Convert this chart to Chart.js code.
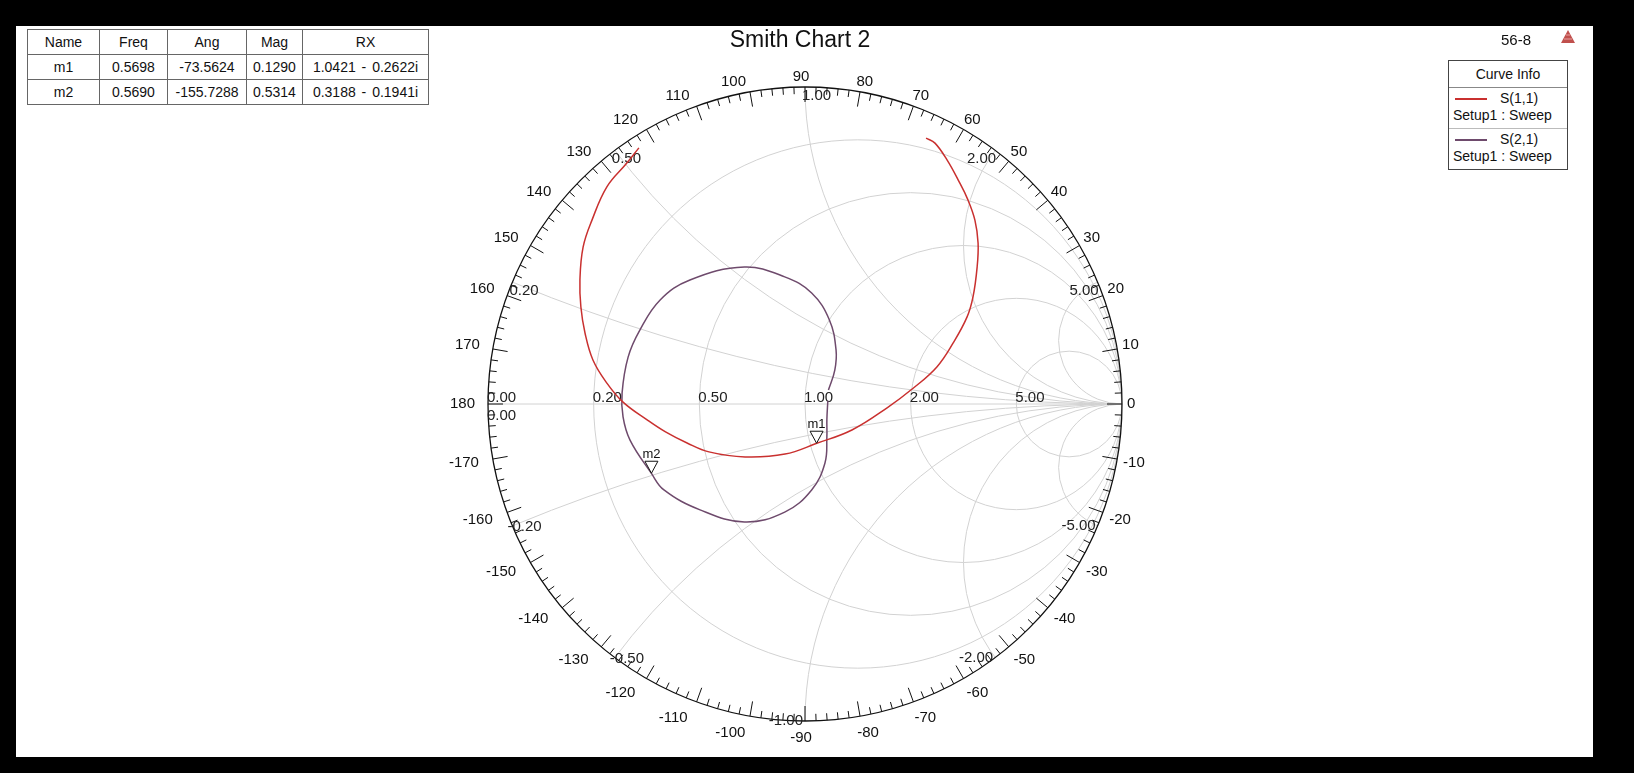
<!DOCTYPE html>
<html>
<head>
<meta charset="utf-8">
<script src="https://cdn.jsdelivr.net/npm/chart.js@4.4.1/dist/chart.umd.min.js"></script>
<style>
html,body{margin:0;padding:0;background:#000;width:1634px;height:773px;overflow:hidden;font-family:"Liberation Sans",Arial,sans-serif;}
#paper{position:absolute;left:16px;top:26px;width:1577px;height:731px;background:#fff;}
#chart{position:absolute;left:0;top:0;}
#title{position:absolute;left:650px;top:28px;width:300px;text-align:center;font-size:23px;line-height:23px;color:#111;}
#markers{position:absolute;left:27px;top:29px;border-collapse:collapse;table-layout:fixed;font-size:14px;color:#111;background:#fff;word-spacing:2px;}
#markers td{border:1px solid #666;height:24px;padding:0;text-align:center;white-space:nowrap;}
#tag{position:absolute;left:1501px;top:31px;font-size:15px;color:#111;}
#icon{position:absolute;left:1560px;top:29px;}
#legend{position:absolute;left:1448px;top:60px;width:118px;border:1px solid #444;background:#fff;font-size:14px;color:#111;}
#legend .hdr{height:26px;line-height:26px;text-align:center;border-bottom:1px solid #888;}
#legend .row{height:40px;position:relative;}
#legend .row + .row{border-top:1px solid #bbb;}
#legend .ln{position:absolute;left:6px;top:10px;width:32px;height:0;border-top:2px solid;}
#legend .nm{position:absolute;left:51px;top:2px;}
#legend .sub{position:absolute;left:4px;top:19px;white-space:nowrap;}
</style>
</head>
<body>
<div id="paper"></div>
<canvas id="chart" width="1634" height="773"></canvas>
<div id="title">Smith Chart 2</div>
<table id="markers">
<colgroup><col style="width:72px"><col style="width:68px"><col style="width:79px"><col style="width:56px"><col style="width:126px"></colgroup>
<tbody id="mbody"></tbody>
</table>
<div id="tag">56-8</div>
<svg id="icon" width="16" height="15"><polygon points="8,1 15,14 1,14" fill="#c0504d"/><line x1="4" y1="10" x2="12" y2="10" stroke="#e8a0a0"/><line x1="6" y1="6" x2="10" y2="6" stroke="#e8a0a0"/></svg>
<div id="legend"></div>
<script>
// S(1,1) trace, reflection coefficient (real / imag)
const s11Re = [0.382, 0.410, 0.448, 0.483, 0.514, 0.536, 0.546, 0.543, 0.530, 0.511, 0.467, 0.416, 0.344, 0.259, 0.148, 0.037, -0.063, -0.189, -0.303, -0.372, -0.440, -0.498, -0.574, -0.625, -0.669, -0.694, -0.707, -0.710, -0.700, -0.672, -0.625, -0.562, -0.524];
const s11Im = [0.839, 0.823, 0.770, 0.707, 0.644, 0.580, 0.508, 0.432, 0.338, 0.274, 0.192, 0.117, 0.052, -0.012, -0.082, -0.124, -0.158, -0.167, -0.151, -0.123, -0.088, -0.050, 0.006, 0.066, 0.139, 0.224, 0.306, 0.391, 0.495, 0.580, 0.685, 0.760, 0.808];
// S(2,1) trace
const s21Re = [0.072, 0.069, 0.069, 0.063, 0.021, -0.064, -0.191, -0.331, -0.445, -0.485, -0.552, -0.574, -0.577, -0.558, -0.521, -0.457, -0.363, -0.191, -0.064, 0.021, 0.077, 0.098, 0.094, 0.074];
const s21Im = [0.010, -0.050, -0.104, -0.186, -0.271, -0.341, -0.372, -0.334, -0.271, -0.218, -0.114, -0.041, 0.035, 0.148, 0.233, 0.328, 0.391, 0.432, 0.401, 0.350, 0.265, 0.170, 0.107, 0.044];

const traceNames = ["S(1,1)", "S(2,1)"];
const traceColors = ["#c9302f", "#6e4a6c"];
const sweepName = "Setup1 : Sweep";

// marker table
const markerNames = ["m1", "m2"];
const markerFreq = ["0.5698", "0.5690"];
const markerAng = [-73.5624, -155.7288];
const markerMag = [0.1290, 0.5314];
const markerRX = ["1.0421 - 0.2622i", "0.3188 - 0.1941i"];

// grid values and tick labels
const resistanceValues = [0.2, 0.5, 1, 2, 5];
const resistanceLabels = ["0.00", "0.20", "0.50", "1.00", "2.00", "5.00"];
const reactanceValues = [0.2, 0.5, 1, 2, 5];
const reactanceLabels = ["0.20", "0.50", "1.00", "2.00", "5.00"];
const angleLabels = [0, 10, 20, 30, 40, 50, 60, 70, 80, 90, 100, 110, 120, 130, 140, 150, 160, 170, 180,
  -170, -160, -150, -140, -130, -120, -110, -100, -90, -80, -70, -60, -50, -40, -30, -20, -10];

// table + legend
let rows = '<tr><td>Name</td><td>Freq</td><td>Ang</td><td>Mag</td><td>RX</td></tr>';
markerNames.forEach((n,i)=>{
rows += '<tr><td>'+n+'</td><td>'+markerFreq[i]+'</td><td>'+markerAng[i].toFixed(4)+'</td><td>'+markerMag[i].toFixed(4)+'</td><td>'+markerRX[i]+'</td></tr>';
});
document.getElementById("mbody").innerHTML = rows;

let lg = '<div class="hdr">Curve Info</div>';
traceNames.forEach((n,i)=>{
lg += '<div class="row"><span class="ln" style="border-color:'+traceColors[i]+'"></span><span class="nm">'+n+'</span><div class="sub">'+sweepName+'</div></div>';
});
document.getElementById("legend").innerHTML = lg;

const FONT = '"Liberation Sans", Arial, sans-serif';

const smithGrid = {
id: "smithGrid",
beforeDatasetsDraw(chart){
const ctx = chart.ctx;
const xs = chart.scales.x, ys = chart.scales.y;
const px = v => xs.getPixelForValue(v);
const py = v => ys.getPixelForValue(v);
const cx = px(0), cy = py(0), R = px(1) - px(0);

ctx.save();
ctx.beginPath();
ctx.arc(cx, cy, R, 0, Math.PI*2);
ctx.clip();
ctx.strokeStyle = "#d2d2d2";
ctx.lineWidth = 1;
ctx.beginPath();
ctx.moveTo(px(-1), cy);
ctx.lineTo(px(1), cy);
ctx.stroke();
resistanceValues.forEach(r=>{
ctx.beginPath();
ctx.arc(px(r/(1+r)), cy, R/(1+r), 0, Math.PI*2);
ctx.stroke();
});
reactanceValues.forEach(x=>{
[x, -x].forEach(v=>{
ctx.beginPath();
ctx.arc(px(1), py(1/v), R/Math.abs(v), 0, Math.PI*2);
ctx.stroke();
});
});
ctx.restore();

// outer ring and ticks
ctx.save();
ctx.strokeStyle = "#111";
ctx.lineWidth = 1.3;
ctx.beginPath();
ctx.arc(cx, cy, R, 0, Math.PI*2);
ctx.stroke();
ctx.lineWidth = 1;
for(let a = 0; a < 360; a += 2){
const t = a*Math.PI/180;
const len = a % 10 === 0 ? 15 : 7;
ctx.beginPath();
ctx.moveTo(cx + R*Math.cos(t), cy - R*Math.sin(t));
ctx.lineTo(cx + (R-len)*Math.cos(t), cy - (R-len)*Math.sin(t));
ctx.stroke();
}

// angle labels
ctx.fillStyle = "#111";
ctx.font = "15px " + FONT;
ctx.textAlign = "center";
ctx.textBaseline = "middle";
angleLabels.forEach(a=>{
const t = a*Math.PI/180;
const c = Math.cos(t), s = Math.sin(t);
const pad = 5 + (s < 0 ? -6*s : 0);
const txt = String(a);
const w = ctx.measureText(txt).width, h = 11;
const kx = Math.max(-1, Math.min(1, c*5));
const ky = Math.max(-1, Math.min(1, s*3));
const lx = cx + (R+pad)*c + kx*w/2 - 4 + 4*c;
const ly = cy - (R+pad)*s - ky*h/2;
ctx.fillText(txt, lx, ly);
});

// resistance labels on the real axis
ctx.fillStyle = "#222";
ctx.textAlign = "left";
ctx.textBaseline = "alphabetic";
resistanceLabels.forEach(l=>{
const r = parseFloat(l);
const g = (r-1)/(r+1);
ctx.fillText(l, px(g) - 1, cy - 2);
});
// reactance zero label below the axis
ctx.textBaseline = "top";
ctx.fillText("0.00", px(-1) - 1, cy + 4);

// reactance labels at the rim
reactanceLabels.forEach(l=>{
const x = parseFloat(l);
[x, -x].forEach(v=>{
const gr = (v*v-1)/(v*v+1), gi = 2*v/(v*v+1);
const X = px(gr), Y = py(gi);
const txt = v < 0 ? "-" + l : l;
if(v > 0){
ctx.textBaseline = "top";
if(gr <= 0.001){ ctx.textAlign = "left"; ctx.fillText(txt, X - 3, Y + 1); }
else { ctx.textAlign = "right"; ctx.fillText(txt, X + 1, Y + 1); }
}else{
ctx.textBaseline = "alphabetic";
if(gr < -0.001){ ctx.textAlign = "left"; ctx.fillText(txt, X - 5, Y + 5); }
else { ctx.textAlign = "right"; ctx.fillText(txt, X - 2, Y + 4); }
}
});
});
ctx.restore();
}
};

const markerPlugin = {
id: "markerPlugin",
afterDatasetsDraw(chart){
const ctx = chart.ctx;
const xs = chart.scales.x, ys = chart.scales.y;
ctx.save();
ctx.font = "13px " + FONT;
ctx.textAlign = "center";
ctx.textBaseline = "alphabetic";
markerNames.forEach((n,i)=>{
const t = markerAng[i]*Math.PI/180;
const X = xs.getPixelForValue(markerMag[i]*Math.cos(t));
const Y = ys.getPixelForValue(markerMag[i]*Math.sin(t));
ctx.beginPath();
ctx.moveTo(X, Y);
ctx.lineTo(X-6.5, Y-12);
ctx.lineTo(X+6.5, Y-12);
ctx.closePath();
ctx.fillStyle = "#fff";
ctx.fill();
ctx.strokeStyle = "#111";
ctx.lineWidth = 1;
ctx.stroke();
ctx.fillStyle = "#111";
ctx.fillText(n, X, Y - 15);
});
ctx.restore();
}
};

function pts(re, im){
return re.map((v,i)=>({x: v, y: im[i]}));
}

new Chart(document.getElementById("chart"), {
type: "scatter",
data: {
datasets: [{
label: traceNames[0],
data: pts(s11Re, s11Im),
showLine: true,
borderColor: traceColors[0],
borderWidth: 1.5,
pointRadius: 0,
tension: 0.4
},{
label: traceNames[1],
data: pts(s21Re, s21Im),
showLine: true,
borderColor: traceColors[1],
borderWidth: 1.5,
pointRadius: 0,
tension: 0.4
}]
},
options: {
responsive: false,
animation: false,
layout: {padding: {left: 488, right: 512, top: 87, bottom: 52}},
scales: {
x: {type: "linear", min: -1, max: 1, display: false},
y: {type: "linear", min: -1, max: 1, display: false}
},
plugins: {legend: {display: false}, tooltip: {enabled: false}}
},
plugins: [smithGrid, markerPlugin]
});
</script>
</body>
</html>
